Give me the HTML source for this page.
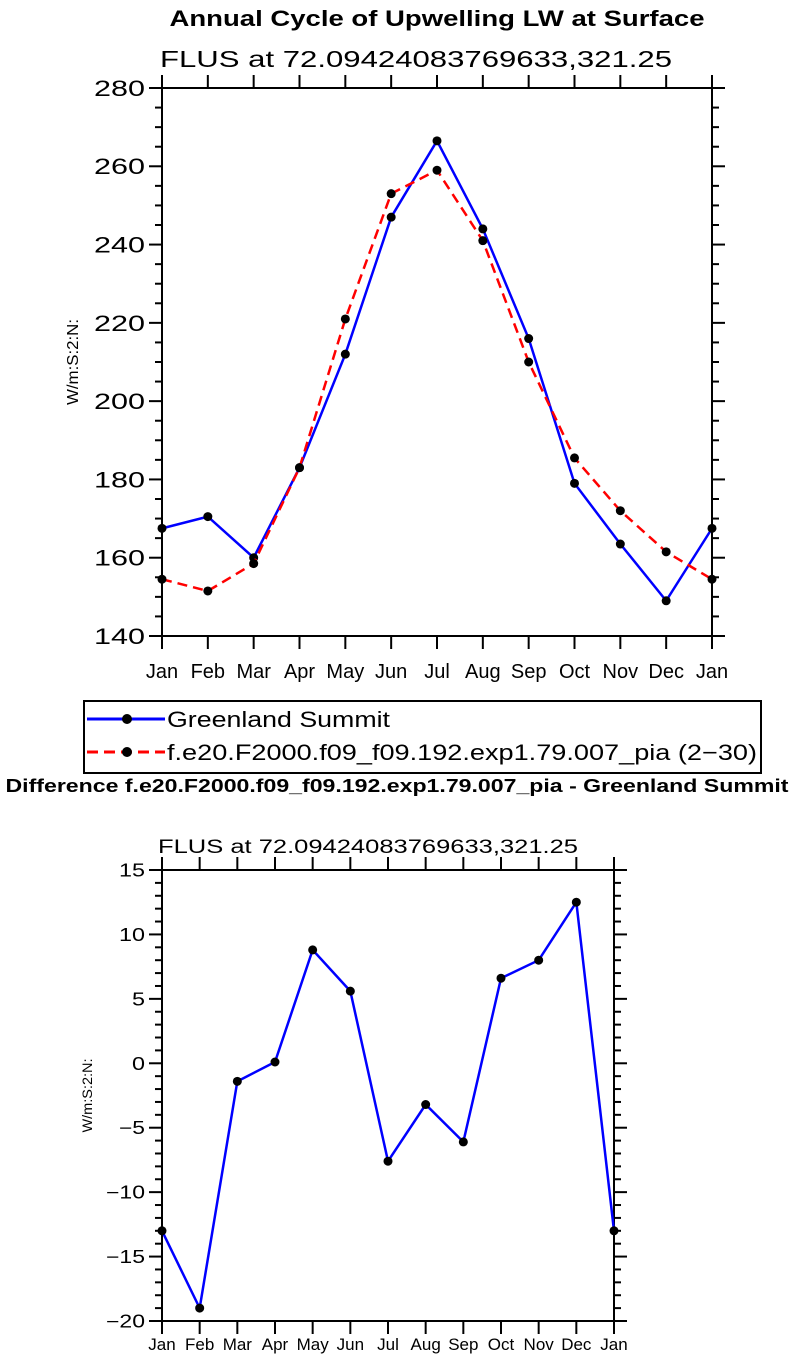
<!DOCTYPE html>
<html><head><meta charset="utf-8"><style>
body{margin:0;background:#fff;}
svg{display:block;font-family:"Liberation Sans",sans-serif;}
</style></head><body>
<svg id="s" width="795" height="1365" xmlns="http://www.w3.org/2000/svg">
<text x="437" y="26" font-size="22" font-weight="bold" text-anchor="middle" textLength="535" lengthAdjust="spacingAndGlyphs">Annual Cycle of Upwelling LW at Surface</text>
<text x="416" y="67" font-size="23" text-anchor="middle" textLength="512" lengthAdjust="spacingAndGlyphs">FLUS at 72.09424083769633,321.25</text>
<text x="397" y="792" font-size="18" font-weight="bold" text-anchor="middle" textLength="783" lengthAdjust="spacingAndGlyphs">Difference f.e20.F2000.f09_f09.192.exp1.79.007_pia - Greenland Summit</text>
<text x="368" y="853" font-size="19" text-anchor="middle" textLength="420" lengthAdjust="spacingAndGlyphs">FLUS at 72.09424083769633,321.25</text>
<g id="top"></g>
<g id="bot"></g>
<g>
<rect x="84" y="701" width="677" height="72" fill="none" stroke="#000" stroke-width="2"/>
<g>
<line x1="87" y1="719" x2="165" y2="719" stroke="#0000ff" stroke-width="3"/>
<circle cx="127" cy="719" r="5"/>
<text x="167" y="727" font-size="22" textLength="223" lengthAdjust="spacingAndGlyphs">Greenland Summit</text></g>
<g>
<line x1="87" y1="752" x2="165" y2="752" stroke="#ff0000" stroke-width="3" stroke-dasharray="11,6"/>
<circle cx="127" cy="752" r="5"/>
<text x="167" y="760" font-size="22" textLength="590" lengthAdjust="spacingAndGlyphs">f.e20.F2000.f09_f09.192.exp1.79.007_pia (2−30)</text></g>
</g>
</svg>
<script>
const months=["Jan","Feb","Mar","Apr","May","Jun","Jul","Aug","Sep","Oct","Nov","Dec","Jan"];
const obsVals=[167.5,170.5,160,183,212,247,266.5,244,216,179,163.5,149,167.5];
const modelVals=[154.5,151.5,158.5,183,221,253,259,241,210,185.5,172,161.5,154.5];
const diffVals=[-13,-19,-1.4,0.1,8.8,5.6,-7.6,-3.2,-6.1,6.6,8,12.5,-13];
const topTicks=[140,160,180,200,220,240,260,280];
const botTicks=[-20,-15,-10,-5,0,5,10,15];
const NS="http://www.w3.org/2000/svg";
function mk(p,t,a){const e=document.createElementNS(NS,t);for(const k in a)e.setAttribute(k,a[k]);p.appendChild(e);return e;}
function chart(g,x0,x1,y0,y1,vmin,vmax,ticks,minorStep,o,series){
  const sx=i=>x0+(x1-x0)*i/(months.length-1);
  const sy=v=>y1-(y1-y0)*(v-vmin)/(vmax-vmin);
  const frame=mk(g,'rect',{x:x0,y:y0,width:x1-x0,height:y1-y0,fill:'none',stroke:'#000','stroke-width':2});
  
  
  for(let v=vmin;v<=vmax+1e-9;v+=minorStep){
    const y=sy(v);const maj=ticks.some(t=>Math.abs(t-v)<1e-9);const L=maj?13:7;
    mk(g,'line',{x1:x0-L,y1:y,x2:x0,y2:y,stroke:'#000','stroke-width':2});
    mk(g,'line',{x1:x1,y1:y,x2:x1+L,y2:y,stroke:'#000','stroke-width':2});
  }
  ticks.forEach(t=>{const s=String(t).replace('-','−');
    const tx=mk(g,'text',{x:x0-17,y:sy(t)+o.yfs*0.36,'font-size':o.yfs,'text-anchor':'end',textLength:s.length*o.ycw,lengthAdjust:'spacingAndGlyphs'});tx.textContent=s;
    
    });
  months.forEach((m,i)=>{const x=sx(i);
    mk(g,'line',{x1:x,y1:y1,x2:x,y2:y1+13,stroke:'#000','stroke-width':2});
    mk(g,'line',{x1:x,y1:y0,x2:x,y2:y0-13,stroke:'#000','stroke-width':2});
    const tx=mk(g,'text',{x:x,y:y1+o.mdy,'font-size':o.mfs,'text-anchor':'middle'});tx.textContent=m;
    
    });
  const yl=mk(g,'text',{transform:`translate(${o.lx},${(y0+y1)/2}) rotate(-90)`,'font-size':o.lfs,'text-anchor':'middle',textLength:o.lw,lengthAdjust:'spacingAndGlyphs'});yl.textContent='W/m:S:2:N:';
  
  
  series.forEach(s=>{
    const pl=mk(g,'polyline',{points:s.vals.map((v,i)=>sx(i)+','+sy(v)).join(' '),fill:'none',stroke:s.color,'stroke-width':2.5,'stroke-dasharray':s.dash||'none'});
    
    
    s.vals.forEach((v,i)=>{const c=mk(g,'circle',{cx:sx(i),cy:sy(v),r:4.5});
      
      });
  });
}
chart(document.getElementById('top'),162,712,88,636,140,280,topTicks,5,
 {yfs:22,ycw:17,mfs:20,mdy:42,lx:78,lfs:16,lw:86},
 [{vals:obsVals,color:'#0000ff',name:'greenland'},{vals:modelVals,color:'#ff0000',dash:'10,6',name:'model'}]);
chart(document.getElementById('bot'),162,614,870,1321,-20,15,botTicks,1,
 {yfs:18,ycw:13,mfs:17,mdy:29,lx:92,lfs:14,lw:74},
 [{vals:diffVals,color:'#0000ff',name:'difference'}]);
</script>
</body></html>
